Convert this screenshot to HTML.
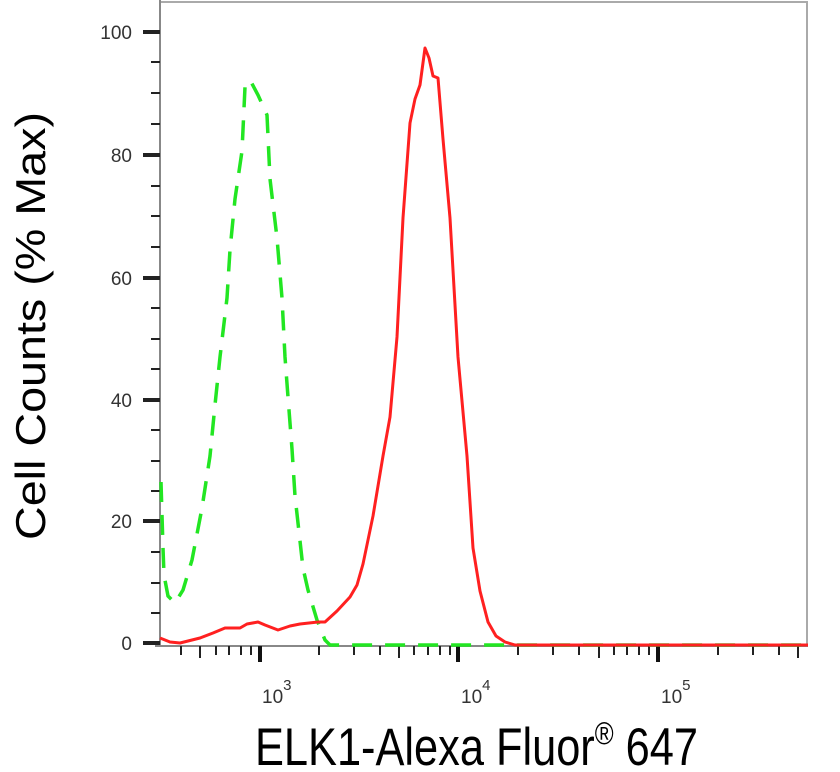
<!DOCTYPE html>
<html><head><meta charset="utf-8"><style>
html,body{margin:0;padding:0;background:#fff;}
svg{display:block;}
text{font-family:"Liberation Sans",Arial,sans-serif;}
</style></head><body>
<svg width="840" height="772" viewBox="0 0 840 772" xmlns="http://www.w3.org/2000/svg">
<rect x="0" y="0" width="840" height="772" fill="#fff"/>
<line x1="160" y1="2" x2="808" y2="2" stroke="#aaa" stroke-width="2"/>
<line x1="807" y1="2" x2="807" y2="646" stroke="#aaa" stroke-width="2"/>
<line x1="160" y1="0" x2="160" y2="647" stroke="#888" stroke-width="2"/>
<line x1="155" y1="646" x2="808" y2="646" stroke="#888" stroke-width="2"/>
<g stroke="#222">
<g stroke-width="4">
<line x1="143" y1="32" x2="160" y2="32"/><line x1="143" y1="155" x2="160" y2="155"/>
<line x1="143" y1="278" x2="160" y2="278"/><line x1="143" y1="400" x2="160" y2="400"/>
<line x1="143" y1="521" x2="160" y2="521"/><line x1="143" y1="643" x2="160" y2="643"/>
</g>
<g stroke-width="2">
<line x1="151" y1="62" x2="160" y2="62"/><line x1="151" y1="93" x2="160" y2="93"/><line x1="151" y1="124" x2="160" y2="124"/>
<line x1="151" y1="186" x2="160" y2="186"/><line x1="151" y1="216" x2="160" y2="216"/><line x1="151" y1="247" x2="160" y2="247"/>
<line x1="151" y1="308" x2="160" y2="308"/><line x1="151" y1="339" x2="160" y2="339"/><line x1="151" y1="369" x2="160" y2="369"/>
<line x1="151" y1="430" x2="160" y2="430"/><line x1="151" y1="461" x2="160" y2="461"/><line x1="151" y1="491" x2="160" y2="491"/>
<line x1="151" y1="552" x2="160" y2="552"/><line x1="151" y1="583" x2="160" y2="583"/><line x1="151" y1="613" x2="160" y2="613"/>
</g>
</g>
<g font-size="19" fill="#333" text-anchor="end">
<text x="132" y="39">100</text><text x="132" y="162">80</text><text x="132" y="285">60</text>
<text x="132" y="407">40</text><text x="132" y="528">20</text><text x="132" y="650">0</text>
</g>
<g stroke="#222" stroke-width="2">
<line x1="181" y1="646" x2="181" y2="655"/><line x1="200" y1="646" x2="200" y2="658"/><line x1="216" y1="646" x2="216" y2="655"/><line x1="229" y1="646" x2="229" y2="655"/><line x1="241" y1="646" x2="241" y2="655"/><line x1="251" y1="646" x2="251" y2="655"/>
<line x1="319" y1="646" x2="319" y2="655"/><line x1="354" y1="646" x2="354" y2="655"/><line x1="380" y1="646" x2="380" y2="655"/><line x1="399" y1="646" x2="399" y2="658"/><line x1="414" y1="646" x2="414" y2="655"/><line x1="428" y1="646" x2="428" y2="655"/><line x1="440" y1="646" x2="440" y2="655"/><line x1="450" y1="646" x2="450" y2="655"/>
<line x1="518" y1="646" x2="518" y2="655"/><line x1="553" y1="646" x2="553" y2="655"/><line x1="579" y1="646" x2="579" y2="655"/><line x1="599" y1="646" x2="599" y2="658"/><line x1="614" y1="646" x2="614" y2="655"/><line x1="627" y1="646" x2="627" y2="655"/><line x1="639" y1="646" x2="639" y2="655"/><line x1="649" y1="646" x2="649" y2="655"/>
<line x1="718" y1="646" x2="718" y2="655"/><line x1="753" y1="646" x2="753" y2="655"/><line x1="779" y1="646" x2="779" y2="655"/><line x1="798" y1="646" x2="798" y2="658"/>
</g>
<g stroke="#111" stroke-width="4">
<line x1="260" y1="646" x2="260" y2="662"/><line x1="458" y1="646" x2="458" y2="662"/><line x1="658" y1="646" x2="658" y2="662"/>
</g>
<g font-size="19" fill="#333">
<text x="262" y="703">10<tspan font-size="15" dy="-13">3</tspan></text>
<text x="461" y="703">10<tspan font-size="15" dy="-13">4</tspan></text>
<text x="661" y="703">10<tspan font-size="15" dy="-13">5</tspan></text>
</g>
<path d="M161,482 L163,548 L164,575 L168,596 L175,603 L183,590 L192,560 L202,508 L210,456 L215,405 L220,357 L227,298 L230,250 L235,199 L242,151 L245,87 L250,80 L258,95 L267,115 L270,179 L277,238 L282,298 L285,357 L288,397 L292,449 L295,496 L303,568 L308,590 L317,620 L325,640 L330,645 L808,645" fill="none" stroke="#22e622" stroke-width="3.5" stroke-dasharray="20 13"/>
<path d="M160,638 L170,642 L180,643 L200,638 L213,633 L225,628 L240,628 L247,624 L258,622 L265,625 L278,630 L290,626 L300,624 L318,622 L325,622 L337,611 L350,597 L357,585 L363,564 L373,516 L383,456 L390,417 L397,337 L403,218 L410,123 L415,99 L420,85 L425,48 L429,58 L433,76 L438,78 L443,139 L450,218 L458,357 L467,456 L473,548 L480,591 L488,622 L496,636 L505,642 L515,645 L808,645" fill="none" stroke="#ff2020" stroke-width="3" stroke-linejoin="round"/>
<text x="0" y="0" font-size="42" fill="#000" text-anchor="middle" textLength="428" lengthAdjust="spacingAndGlyphs" transform="translate(45,326) rotate(-90)">Cell Counts (% Max)</text>
<g transform="translate(0,765) scale(1,1.2)">
<text x="255" y="0" font-size="44" fill="#000" textLength="443" lengthAdjust="spacingAndGlyphs">ELK1-Alexa Fluor<tspan font-size="26" dy="-17">®</tspan><tspan dy="17"> 647</tspan></text>
</g>
</svg>
</body></html>
